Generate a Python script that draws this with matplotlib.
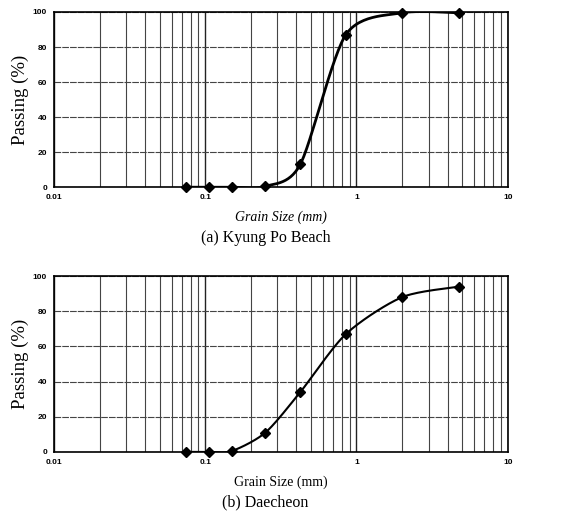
import numpy as np
import matplotlib as mpl
mpl.use('Agg')
import matplotlib.pyplot as plt
from matplotlib.ticker import LogLocator, FixedLocator, FixedFormatter

# sieve sizes (mm) and percent passing
sieve = [0.075, 0.106, 0.15, 0.25, 0.425, 0.85, 2.0, 4.75]
kyungpo = [0, 0, 0, 0.5, 13, 87, 99.5, 99.5]
daecheon = [0, 0, 0.5, 11, 34, 67, 88, 94]

xticks = [0.01, 0.1, 1, 10]
xticklabels = ['0.01', '0.1', '1', '10']
yticks = [0, 20, 40, 60, 80, 100]


def smooth(x, y, n=30):
    # Catmull-Rom through the points, in log-x space (like a spreadsheet smoothed line)
    lx = np.log10(x)
    y = np.asarray(y, float)
    P = np.column_stack([lx, y])
    P = np.vstack([P[0], P, P[-1]])
    out = []
    for i in range(1, len(P) - 2):
        p0, p1, p2, p3 = P[i - 1], P[i], P[i + 1], P[i + 2]
        t = np.linspace(0, 1, n)[:, None]
        m1 = (p2 - p0) / 2 * 0.8
        m2 = (p3 - p1) / 2 * 0.8
        h00 = 2 * t**3 - 3 * t**2 + 1
        h10 = t**3 - 2 * t**2 + t
        h01 = -2 * t**3 + 3 * t**2
        h11 = t**3 - t**2
        out.append(h00 * p1 + h10 * m1 + h01 * p2 + h11 * m2)
    c = np.vstack(out)
    return 10 ** c[:, 0], c[:, 1]


serif = ['Liberation Serif', 'DejaVu Serif']
sans = ['Liberation Sans', 'DejaVu Sans']

fig = plt.figure(figsize=(5.65, 5.2), dpi=100)
ax1 = fig.add_axes([0.0956, 0.640, 0.803, 0.337])
ax2 = fig.add_axes([0.0956, 0.131, 0.803, 0.338])

for ax, data, lw, xstyle, cap, capy in [
        (ax1, kyungpo, 2.0, 'italic', '(a) Kyung Po Beach', 0.535),
        (ax2, daecheon, 1.5, 'normal', '(b) Daecheon', 0.027)]:
    ax.set_xscale('log')
    ax.set_xlim(0.01, 10)
    ax.set_ylim(0, 100)
    sx, sy = smooth(sieve, data)
    ax.plot(sx, sy, color='black', lw=lw, zorder=3)
    ax.plot(sieve, data, 'D', color='black', ms=5, zorder=4, clip_on=False)
    ax.xaxis.set_major_locator(FixedLocator(xticks))
    ax.xaxis.set_major_formatter(FixedFormatter(xticklabels))
    ax.xaxis.set_minor_locator(LogLocator(base=10, subs=np.arange(2, 10)))
    ax.xaxis.set_minor_formatter(mpl.ticker.NullFormatter())
    ax.set_yticks(yticks)
    ax.tick_params(which='both', length=0, labelsize=6, pad=5)
    for lab in ax.get_xticklabels() + ax.get_yticklabels():
        lab.set_family(sans)
        lab.set_fontweight('bold')
    ax.grid(which='major', axis='x', color='#222222', lw=1.0)
    ax.grid(which='minor', axis='x', color='#444444', lw=0.8)
    ax.grid(which='major', axis='y', color='#444444', lw=0.8, ls=(0, (6, 1)))
    for s in ax.spines.values():
        s.set_linewidth(1.2)
    ax.set_ylabel('Passing (%)', family=serif, fontsize=13.5, labelpad=3)
    ax.set_xlabel('Grain Size (mm)', family=serif, fontsize=10, style=xstyle, labelpad=7)
    fig.text(0.47, capy, cap, family=serif, fontsize=11.5, ha='center')

fig.savefig('out.png', dpi=100)
